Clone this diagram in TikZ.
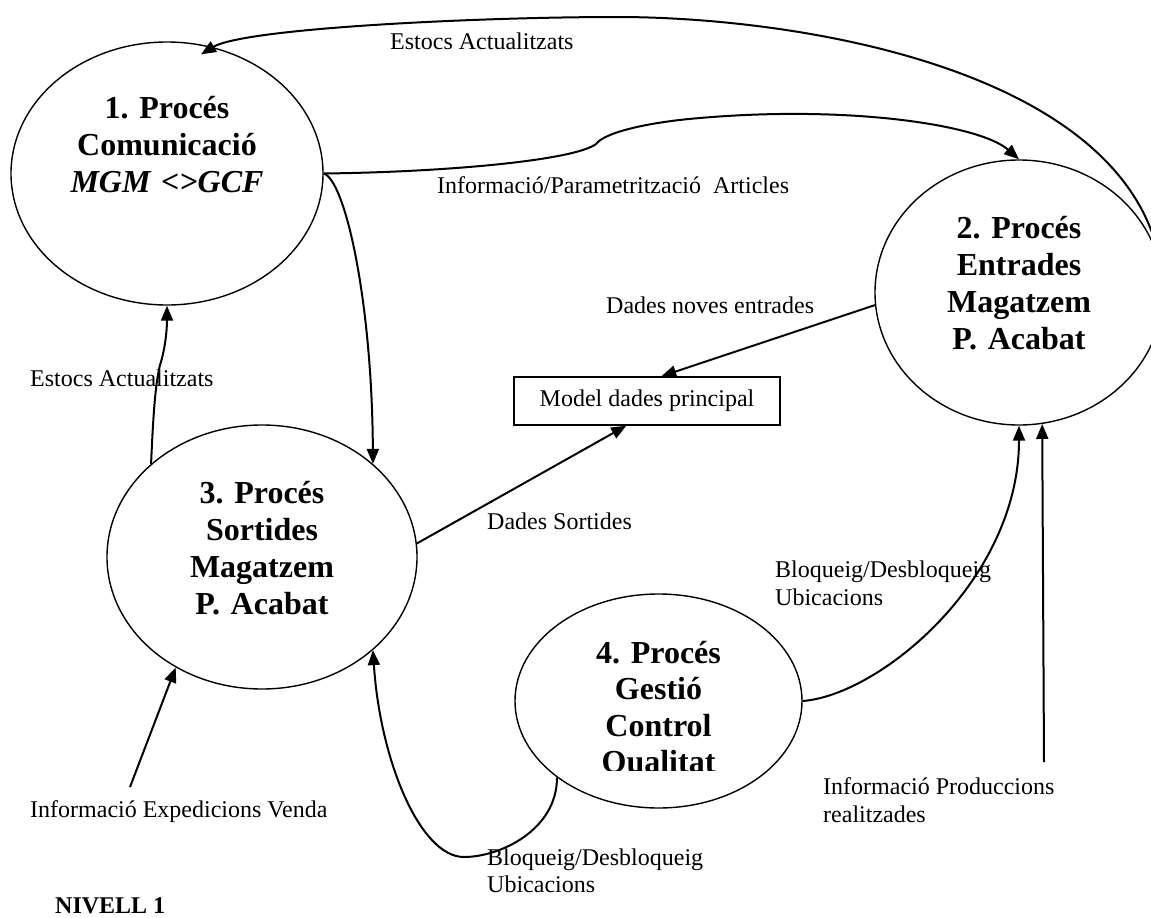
\documentclass[tikz,border=0pt]{standalone}
\usepackage{fontspec}
\setmainfont{Liberation Serif}
\usetikzlibrary{arrows.meta,shapes.geometric}
\begin{document}
\frenchspacing
\begin{tikzpicture}[x=1pt,y=-1pt,
  proc/.style={draw, ellipse, line width=1.4pt, inner sep=0pt},
  title/.style={anchor=base, align=center, text width=300pt, inner sep=0pt,
    font=\bfseries\fontsize{32}{37}\selectfont},
  lbl/.style={anchor=base west, inner sep=0pt, font=\fontsize{24}{27.5}\selectfont},
  flow/.style={line width=2pt, -{Triangle[length=15pt,width=12pt]}},
  store/.style={draw, line width=1.4pt, minimum width=266pt, minimum height=48pt,
    inner sep=0pt, font=\fontsize{24}{27.5}\selectfont}
]
\fill[white] (0,0) rectangle (1151,918);
\useasboundingbox (0,0) rectangle (1151,918);

% processes
\node[proc, minimum width=312pt, minimum height=263pt] (p1) at (167,173.5) {};
\node[proc, minimum width=288pt, minimum height=265pt] (p2) at (1019,292.5) {};
\node[proc, minimum width=310pt, minimum height=264pt] (p3) at (262,557) {};
\node[proc, minimum width=287pt, minimum height=214pt] (p4) at (658.5,701) {};

\node[title] (t1) at (167,118) {1. Procés\\Comunicació\\\textit{MGM <>GCF}};
\node[title] (t2) at (1019,238.5) {2. Procés\\Entrades\\Magatzem\\P. Acabat};
\node[title] (t3) at (262,503) {3. Procés\\Sortides\\Magatzem\\P. Acabat};
\begin{scope}
  \clip (500,590) rectangle (820,770);
  \node[title, font=\bfseries\fontsize{32}{36.5}\selectfont] (t4) at (658.5,663)
    {4. Procés\\Gestió\\Control\\Qualitat};
\end{scope}

% data store
\node[store] (md) at (647,401) {Model dades principal};

% labels
\node[lbl] (lTop) at (390,49) {Estocs Actualitzats};
\node[lbl] (lLeft) at (30,386) {Estocs Actualitzats};
\node[lbl] (lInfo) at (437,193) {Informació/Parametrització\ \ Articles};
\node[lbl] (lNew) at (606,313) {Dades noves entrades};
\node[lbl] (lOut) at (487,529) {Dades Sortides};
\node[lbl] (lBqA) at (775,577) {Bloqueig/Desbloqueig};
\node[lbl] (lBqB) at (775,605) {Ubicacions};
\node[lbl] (lProdA) at (823,794) {Informació Produccions};
\node[lbl] (lProdB) at (823,822) {realitzades};
\node[lbl] (lBq2A) at (487,865) {Bloqueig/Desbloqueig};
\node[lbl] (lBq2B) at (487,892) {Ubicacions};
\node[lbl] (lExp) at (30,817) {Informació Expedicions Venda};
\node[lbl, font=\bfseries\fontsize{24}{27.5}\selectfont] (lvl) at (55,913) {NIVELL 1};

% flows
\draw[flow, shorten >=-14pt] (p2.10) .. controls (1130,70) and (800,17) .. (617,17)
  .. controls (480,17) and (245,28) .. (p1.70);
\draw[flow] (p1.east) .. controls (450,172) and (575,160) .. (596,144)
  .. controls (605,132) and (650,122) .. (700,118)
  .. controls (850,105) and (980,125) .. (p2.north);
\draw[flow] (p1.east) .. controls (345,180) and (372,300) .. (p3.40);
\draw[flow] (p3.140) .. controls (153,420) and (155,385) .. (160,365)
  .. controls (165,350) and (167,330) .. (p1.south);
\draw[flow] (p2.185) -- (md.60);
\draw[flow] (p3.5) -- (md.230);
\draw[flow] (p4.east) .. controls (880,695) and (1019,580) .. (p2.south);
\coordinate (prodsrc) at (1044,762);
\draw[flow] (prodsrc) -- (p2.280);
\draw[flow] (p4.217) .. controls (557,830) and (500,857) .. (464,857)
  .. controls (420,857) and (380,760) .. (p3.320);
\coordinate (expsrc) at (130,787);
\draw[flow] (expsrc) -- (p3.232);
\end{tikzpicture}
\end{document}
